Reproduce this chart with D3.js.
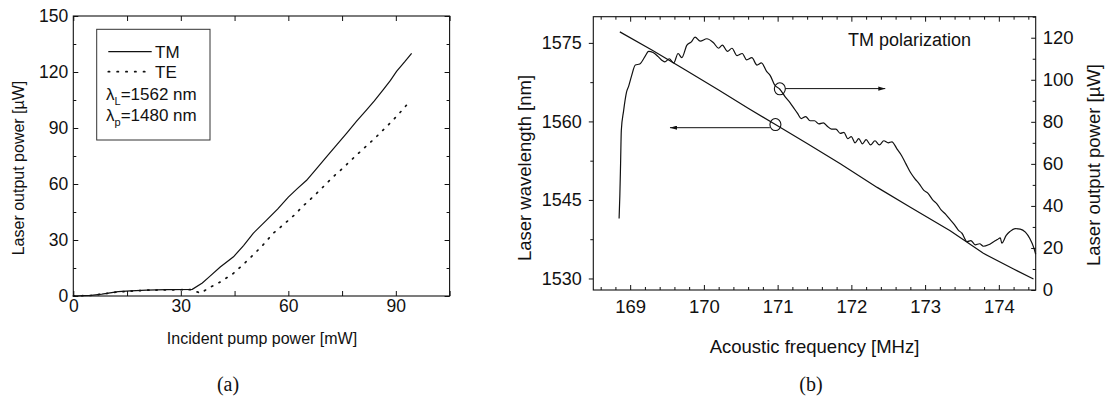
<!DOCTYPE html>
<html><head><meta charset="utf-8">
<script src="https://cdn.jsdelivr.net/npm/d3@7"></script>
<style>
body{margin:0;background:#fff}
svg{display:block;background:#fff}
text{font-family:"Liberation Sans",Arial,Helvetica,sans-serif;fill:#111}
.cap{font-family:"Liberation Serif","DejaVu Serif",serif}
</style></head><body>
<svg id="fig" width="1105" height="404"></svg>
<script>
// ---------- panel (a): output power vs incident pump power ----------
const pumpTM = [[0,0],[5,0.3],[8,1],[12.5,2.3],[16,2.7],[20.5,3.2],[26,3.4],[33.2,3.6],[36,7],[38,10.4],[41,15.5],[44.7,21],[47.5,27],[50.2,33.6],[54,40.8],[57,46.5],[60,53],[62.5,57.5],[65.1,62],[68,68.5],[70.7,74.7],[73.5,81],[76.3,87.3],[79,93.5],[81.9,99.8],[84,104.5],[86.5,110.5],[88.5,115.5],[90.2,120.3],[92.5,125.5],[94.4,130]];
const pumpTE = [[0,0],[5,0.3],[8,1],[12.5,2.2],[16,2.6],[20.5,3.1],[26,3.3],[33,3.4],[35.5,1.5],[38,4.5],[41,7.5],[44.6,12],[47.5,17],[50.2,22],[53,27.5],[55.8,33.6],[58.5,38],[61.4,42.9],[64,48],[67,53.3],[70,59],[72.6,64],[75.5,69],[78.1,73.8],[81,79],[83.7,83.7],[86.5,89],[89.3,94.4],[91.5,99],[93.5,103.4]];
const pumpMajor = [0,30,60,90];
const pumpMinor = [15,45,75,105];
const outMajorA = [0,30,60,90,120,150];
const outMinorA = [15,45,75,105,135];
const legendSeries = ["TM","TE"];
const legendParams = [["L","=1562 nm"],["p","=1480 nm"]];

// ---------- panel (b): tuning vs acoustic frequency ----------
const freqMajor = [169,170,171,172,173,174];
const freqMinor = [168.6,168.8,169.2,169.4,169.6,169.8,170.2,170.4,170.6,170.8,171.2,171.4,171.6,171.8,172.2,172.4,172.6,172.8,173.2,173.4,173.6,173.8,174.2,174.4];
const wlMajor = [1530,1545,1560,1575];
const wlMinor = [1537.5,1552.5,1567.5];
const powMajor = [0,20,40,60,80,100,120];
const powMinor = [10,30,50,70,90,110,130];
const wavelength = [[168.86,1577.1],[169.3,1573.6],[169.75,1569.8],[170.2,1566.0],[170.6,1562.5],[170.97,1559.4],[171.4,1555.8],[171.85,1551.9],[172.35,1547.4],[172.8,1543.6],[173.34,1539.1],[173.79,1534.8],[174.2,1531.8],[174.47,1529.9]];
const outputPower = [[168.85,34],[168.86,45],[168.87,60],[168.88,76],[168.91,85],[168.95,94],[168.98,97],[169.02,102],[169.07,107],[169.13,107.5],[169.2,111],[169.25,113.5],[169.31,113],[169.38,111],[169.44,109],[169.47,108.5],[169.53,110],[169.59,108],[169.65,112.5],[169.7,110.5],[169.77,116.5],[169.83,118],[169.88,120.3],[169.95,118.4],[170.04,119.5],[170.13,117.6],[170.2,115],[170.25,116.5],[170.32,113.5],[170.38,115],[170.45,111.5],[170.52,112.5],[170.58,109.5],[170.65,110.5],[170.72,107],[170.78,108],[170.85,104],[170.9,102],[170.96,97.5],[171.03,95.5],[171.1,92],[171.17,89],[171.22,86.5],[171.27,84],[171.32,81.5],[171.38,82.5],[171.44,80.5],[171.5,80.5],[171.56,79],[171.62,79.5],[171.67,78],[171.73,76.5],[171.79,76.5],[171.85,74.5],[171.9,75],[171.95,72],[172,73],[172.05,70],[172.1,72],[172.15,69.5],[172.2,71.5],[172.26,69],[172.32,71],[172.38,69],[172.44,71],[172.5,70],[172.55,70.5],[172.62,67],[172.68,64],[172.74,60],[172.8,56],[172.86,53],[172.92,50.5],[172.98,47.5],[173.04,46],[173.1,43],[173.16,41],[173.22,38],[173.28,36],[173.34,33.5],[173.4,31],[173.45,28.5],[173.5,27],[173.57,23],[173.62,23.5],[173.68,21.5],[173.74,22],[173.79,20.8],[173.86,21.5],[173.93,23],[173.98,24],[174.02,24.8],[174.04,22.3],[174.1,26],[174.15,27.8],[174.22,29.2],[174.29,29],[174.36,27.5],[174.42,24.5],[174.47,20.5],[174.5,17]];
// circled curve markers with arrows pointing to the axis each curve belongs to
const wlMarker = {f:170.97, v:1559.4, tipF:169.54, arrowV:1558.8};
const powMarker = {f:171.03, v:95.7, tipF:172.46, arrowV:95.8};

const svg = d3.select("#fig");
const defs = svg.append("defs");
defs.append("marker").attr("id","head").attr("viewBox","0 0 10 6")
  .attr("refX",10).attr("refY",3).attr("markerWidth",7).attr("markerHeight",4.2)
  .attr("markerUnits","userSpaceOnUse").attr("orient","auto")
  .append("path").attr("d","M0,0L10,3L0,6Z").attr("fill","#111");

function axis(g, gen, scale, values, size, pad, fmt, fs) {
  g.call(gen(scale).tickValues(values).tickSize(size).tickPadding(pad).tickFormat(fmt || (() => "")));
  g.select(".domain").remove();
  g.selectAll("line").attr("stroke","#111").attr("stroke-width",1);
  g.selectAll("text").attr("font-size",fs||17).attr("fill","#111");
}

// ===== panel (a) =====
const xA = d3.scaleLinear().domain([0,105]).range([73.3,449.6]);
const yA = d3.scaleLinear().domain([0,150]).range([296,16]);
const A = svg.append("g");
const fmtInt = d3.format("d");
axis(A.append("g").attr("transform",`translate(0,${yA(0)})`), d3.axisBottom, xA, pumpMajor, -5, 4, fmtInt, 17.5);
axis(A.append("g").attr("transform",`translate(0,${yA(0)})`), d3.axisBottom, xA, pumpMinor, -5, 4);
axis(A.append("g").attr("transform",`translate(0,${yA(150)})`), d3.axisTop, xA, pumpMajor.concat(pumpMinor), -5, 4);
axis(A.append("g").attr("transform",`translate(${xA(0)},0)`), d3.axisLeft, yA, outMajorA, -5, 5, fmtInt, 17.5);
axis(A.append("g").attr("transform",`translate(${xA(0)},0)`), d3.axisLeft, yA, outMinorA, -3, 5);
axis(A.append("g").attr("transform",`translate(${xA(105)},0)`), d3.axisRight, yA, outMajorA, -5, 5);
axis(A.append("g").attr("transform",`translate(${xA(105)},0)`), d3.axisRight, yA, outMinorA, -3, 5);
A.append("rect").attr("x",xA(0)).attr("y",yA(150)).attr("width",xA(105)-xA(0)).attr("height",yA(0)-yA(150))
  .attr("fill","none").attr("stroke","#111").attr("stroke-width",1.1);

const lineA = d3.line().x(d => xA(d[0])).y(d => yA(d[1]));
A.append("path").datum(pumpTE).attr("d",lineA).attr("fill","none").attr("stroke","#111")
  .attr("stroke-width",1.7).attr("stroke-dasharray","1.3 7").attr("stroke-linecap","round");
A.append("path").datum(pumpTM).attr("d",lineA).attr("fill","none").attr("stroke","#111").attr("stroke-width",1.2);

// legend
const leg = A.append("g");
leg.append("rect").attr("x",96.7).attr("y",29.3).attr("width",113.3).attr("height",110.7)
  .attr("fill","#fff").attr("stroke","#333").attr("stroke-width",1);
legendSeries.forEach((name,i) => {
  const y = 51.7 + i*20;
  leg.append("line").attr("x1",108.3).attr("x2",151.7).attr("y1",y).attr("y2",y)
    .attr("stroke","#111").attr("stroke-width", i ? 1.7 : 1.2)
    .attr("stroke-dasharray", i ? "1.3 7.5" : null).attr("stroke-linecap", i ? "round" : "butt");
  leg.append("text").attr("x",155).attr("y",y).attr("dy","0.35em").attr("font-size",17).text(name);
});
legendParams.forEach((p,i) => {
  const t = leg.append("text").attr("x",106).attr("y",99.5 + i*21.5).attr("font-size",17);
  t.append("tspan").text("\u03bb");
  t.append("tspan").attr("dy",5).attr("font-size",11).text(p[0]);
  t.append("tspan").attr("dy",-5).text(p[1]);
});

A.append("text").attr("x",262).attr("y",344).attr("text-anchor","middle").attr("font-size",16).text("Incident pump power [mW]");
A.append("text").attr("transform","translate(24,168) rotate(-90)").attr("text-anchor","middle").attr("font-size",16).text("Laser output power [\u00b5W]");
A.append("text").attr("class","cap").attr("x",228).attr("y",391).attr("text-anchor","middle").attr("font-size",20).text("(a)");

// ===== panel (b) =====
const xB = d3.scaleLinear().domain([168.5,174.5]).range([593.3,1035.7]);
const yWl = d3.scaleLinear().domain([1527.8,1580]).range([290,16.7]);
const yPw = d3.scaleLinear().domain([0,130]).range([290,16.7]);
const B = svg.append("g");
axis(B.append("g").attr("transform",`translate(0,290)`), d3.axisBottom, xB, freqMajor, -5, 10, fmtInt, 18.5);
axis(B.append("g").attr("transform",`translate(0,290)`), d3.axisBottom, xB, freqMinor, -3, 10);
axis(B.append("g").attr("transform",`translate(0,16.7)`), d3.axisTop, xB, freqMajor, -5, 4);
axis(B.append("g").attr("transform",`translate(0,16.7)`), d3.axisTop, xB, freqMinor, -3, 4);
axis(B.append("g").attr("transform",`translate(${xB(168.5)},0)`), d3.axisLeft, yWl, wlMajor, 4.5, 7, fmtInt, 18);
axis(B.append("g").attr("transform",`translate(${xB(168.5)},0)`), d3.axisLeft, yWl, wlMinor, 3, 7);
axis(B.append("g").attr("transform",`translate(${xB(174.5)},0)`), d3.axisRight, yPw, powMajor, -4.5, 7, fmtInt, 18.5);
axis(B.append("g").attr("transform",`translate(${xB(174.5)},0)`), d3.axisRight, yPw, powMinor, -3, 7);
B.append("rect").attr("x",xB(168.5)).attr("y",16.7).attr("width",xB(174.5)-xB(168.5)).attr("height",290-16.7)
  .attr("fill","none").attr("stroke","#111").attr("stroke-width",1.1);

B.append("path").datum(wavelength).attr("d",d3.line().x(d => xB(d[0])).y(d => yWl(d[1])))
  .attr("fill","none").attr("stroke","#111").attr("stroke-width",1.2);
B.append("path").datum(outputPower).attr("d",d3.line().curve(d3.curveMonotoneX).x(d => xB(d[0])).y(d => yPw(d[1])))
  .attr("fill","none").attr("stroke","#111").attr("stroke-width",1.2);

function marker(m, yScale, dir) {
  const cx = xB(m.f), cy = yScale(m.v), rx = 5.5, ry = 6;
  B.append("ellipse").attr("cx",cx).attr("cy",cy).attr("rx",rx).attr("ry",ry)
    .attr("fill","none").attr("stroke","#111").attr("stroke-width",1.1);
  const ay = yScale(m.arrowV);
  B.append("line").attr("x1",cx + dir*rx).attr("x2",xB(m.tipF)).attr("y1",ay).attr("y2",ay)
    .attr("stroke","#111").attr("stroke-width",1).attr("marker-end","url(#head)");
}
marker(wlMarker, yWl, -1);
marker(powMarker, yPw, 1);

B.append("text").attr("x",848).attr("y",46).attr("font-size",18).text("TM polarization");
B.append("text").attr("x",xB(171.5)).attr("y",353).attr("text-anchor","middle").attr("font-size",18.5).text("Acoustic frequency [MHz]");
B.append("text").attr("transform","translate(531,168) rotate(-90)").attr("text-anchor","middle").attr("font-size",18.5).text("Laser wavelength [nm]");
B.append("text").attr("transform","translate(1100,165) rotate(-90)").attr("text-anchor","middle").attr("font-size",18.5).text("Laser output power [\u00b5W]");
B.append("text").attr("class","cap").attr("x",811).attr("y",391).attr("text-anchor","middle").attr("font-size",20).text("(b)");
</script>
</body></html>
